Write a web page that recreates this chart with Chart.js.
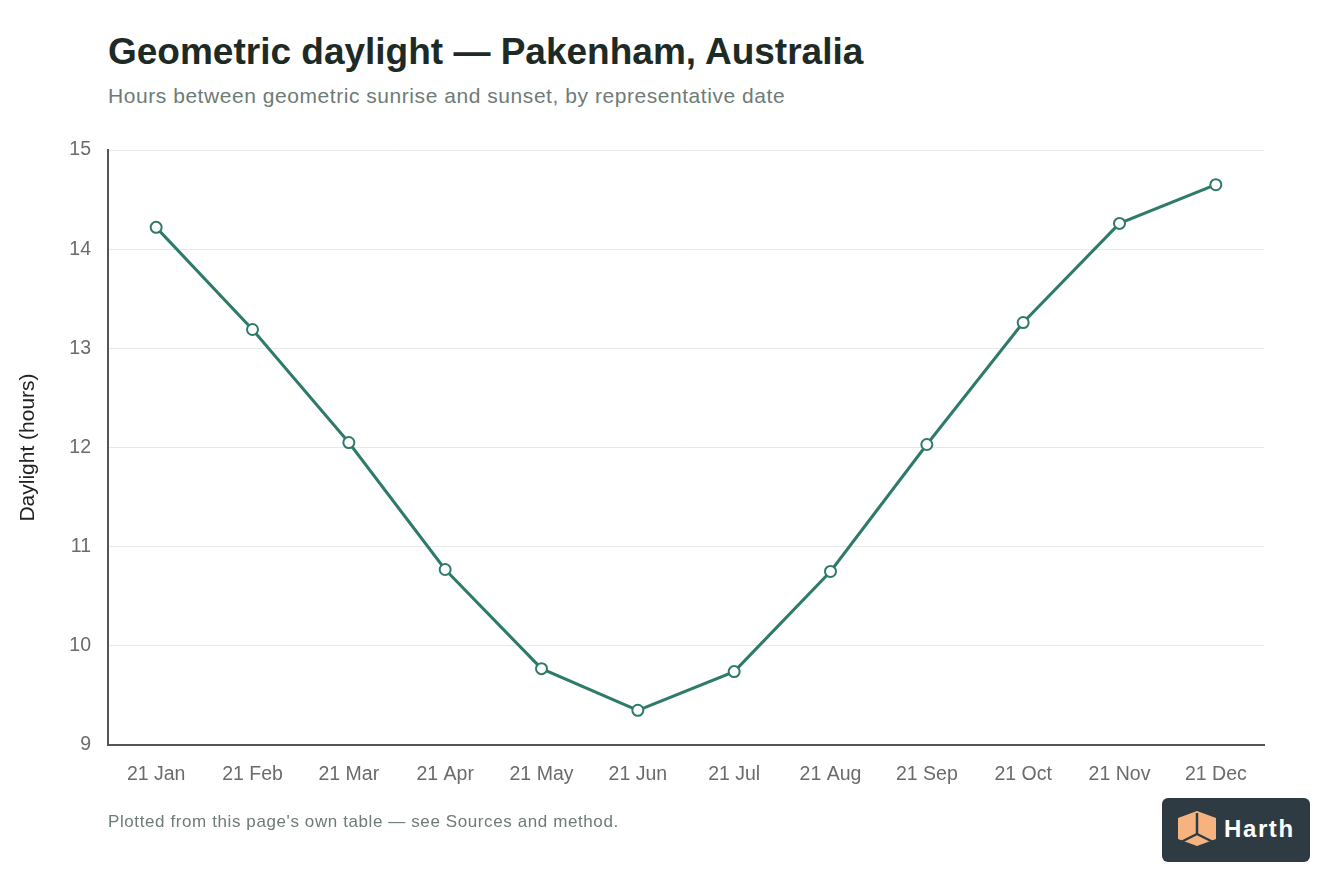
<!DOCTYPE html>
<html>
<head>
<meta charset="utf-8">
<script src="https://cdn.jsdelivr.net/npm/chart.js@4.4.0/dist/chart.umd.min.js"></script>
<style>
  html, body { margin: 0; padding: 0; background: #ffffff; }
  body { width: 1344px; height: 896px; position: relative; overflow: hidden; font-family: "Liberation Sans", Arial, sans-serif; }
  #title { position: absolute; left: 108px; top: 31px; font-size: 37px; font-weight: bold; color: #1d2a25; white-space: nowrap; }
  #subtitle { position: absolute; left: 108px; top: 84px; font-size: 21px; letter-spacing: 0.55px; color: #6e7b76; white-space: nowrap; }
  #note { position: absolute; left: 108px; top: 812px; font-size: 17px; letter-spacing: 0.6px; color: #6e7b76; white-space: nowrap; }
  #wrap { position: absolute; left: 0; top: 0; width: 1344px; height: 896px; }
  #logo { position: absolute; left: 1162px; top: 798px; width: 148px; height: 64px; background: #2f3b43; border-radius: 6px; }
  #logo svg { position: absolute; left: 15px; top: 13px; }
  #logo span { position: absolute; left: 62px; top: 17px; font-size: 24px; font-weight: bold; color: #ffffff; letter-spacing: 1.6px; font-family: "Liberation Sans", Arial, sans-serif; }
</style>
</head>
<body>
<div id="title">Geometric daylight — Pakenham, Australia</div>
<div id="subtitle">Hours between geometric sunrise and sunset, by representative date</div>
<div id="wrap"><canvas id="c" width="1344" height="896"></canvas></div>
<div id="note">Plotted from this page's own table — see Sources and method.</div>
<div id="logo">
  <svg width="40" height="35" viewBox="0 0 40 35">
    <polygon points="20,0 39,7 39,28 20,35 1,28 1,7" fill="#f6b37f"/>
    <line x1="20" y1="2" x2="20" y2="23" stroke="#2f3b43" stroke-width="2.5"/>
    <line x1="20" y1="23" x2="2" y2="32" stroke="#2f3b43" stroke-width="2.5"/>
    <line x1="20" y1="23" x2="38" y2="32" stroke="#2f3b43" stroke-width="2.5"/>
  </svg>
  <span>Harth</span>
</div>
<script>
const categories = ["21 Jan","21 Feb","21 Mar","21 Apr","21 May","21 Jun","21 Jul","21 Aug","21 Sep","21 Oct","21 Nov","21 Dec"];
const daylightHours = [14.22, 13.19, 12.05, 10.77, 9.77, 9.35, 9.74, 10.75, 12.03, 13.26, 14.26, 14.65];
const yTicks = [9, 10, 11, 12, 13, 14, 15];

const ctx = document.getElementById('c');
new Chart(ctx, {
  type: 'line',
  data: {
    labels: categories,
    datasets: [{
      data: daylightHours,
      borderColor: '#2e7a6b',
      borderWidth: 3,
      pointRadius: 5.5,
      pointBorderWidth: 2,
      pointBackgroundColor: '#ffffff',
      pointBorderColor: '#2e7a6b',
      tension: 0,
      fill: false
    }]
  },
  options: {
    responsive: false,
    animation: false,
    devicePixelRatio: 1,
    layout: { autoPadding: false, padding: { left: 0, top: 150, right: 80, bottom: 91 } },
    plugins: { legend: { display: false }, tooltip: { enabled: false } },
    scales: {
      x: {
        offset: true,
        grid: { display: false, drawTicks: false },
        border: { display: true, color: '#555555', width: 2 },
        ticks: { color: '#6b6b6b', font: { family: '"Liberation Sans", Arial, sans-serif', size: 19.5 }, padding: 18, maxRotation: 0 },
        afterFit: (axis) => { axis.height = 60; }
      },
      y: {
        min: 9, max: 15,
        afterBuildTicks: (axis) => { axis.ticks = yTicks.map(v => ({ value: v })); },
        grid: { color: '#e8e8e8', lineWidth: 1, drawTicks: false },
        border: { display: true, color: '#555555', width: 2 },
        ticks: { color: '#6b6b6b', font: { family: '"Liberation Sans", Arial, sans-serif', size: 19.5 }, padding: 17 },
        title: { display: true, text: 'Daylight (hours)', color: '#222222', font: { family: '"Liberation Sans", Arial, sans-serif', size: 21 }, padding: { top: 16, bottom: 0 } },
        afterFit: (axis) => { axis.width = 108; }
      }
    }
  }
});
</script>
</body>
</html>
